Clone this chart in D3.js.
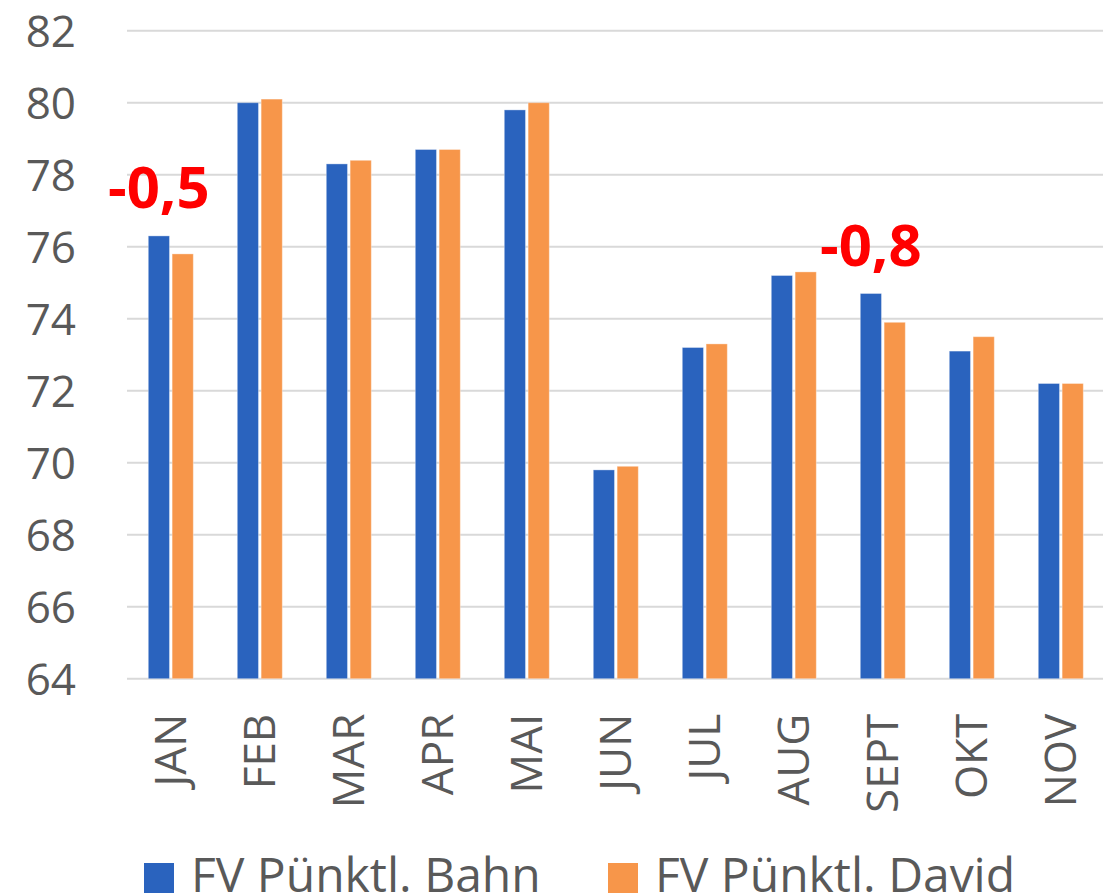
<!DOCTYPE html>
<html>
<head>
<meta charset="utf-8">
<script src="https://cdn.jsdelivr.net/npm/d3@7"></script>
<style>
  html, body { margin: 0; padding: 0; background: #fff; }
  svg { display: block; }
</style>
</head>
<body>
<svg id="chart" width="1115" height="896"></svg>
<script>
// Monthly punctuality of long-distance traffic (FV), two sources
const months = ["JAN", "FEB", "MAR", "APR", "MAI", "JUN", "JUL", "AUG", "SEPT", "OKT", "NOV"];
const bahn   = [76.3, 80.0, 78.3, 78.7, 79.8, 69.8, 73.2, 75.2, 74.7, 73.1, 72.2];
const david  = [75.8, 80.1, 78.4, 78.7, 80.0, 69.9, 73.3, 75.3, 73.9, 73.5, 72.2];
const seriesNames = ["FV Pünktl. Bahn", "FV Pünktl. David"];
const seriesColors = ["#2A63BE", "#F7964A"];
const yTicks = [64, 66, 68, 70, 72, 74, 76, 78, 80, 82];
// Differences called out on the chart (David minus Bahn)
const callouts = [
  { month: "JAN", text: "-0,5" },
  { month: "SEPT", text: "-0,8" }
];

const svg = d3.select("#chart");
const font = "'Open Sans', 'Noto Sans', sans-serif";

const x = d3.scaleBand().domain(months).range([126.3, 1105.3]).paddingInner(0).paddingOuter(0);
const y = d3.scaleLinear().domain([64, 82]).range([678.7, 30.7]);

const barW = 20, barGap = 5;
const groupW = barW * 2 + barGap;
const xs = d3.scaleBand().domain([0, 1]).range([0, groupW]).paddingInner(barGap / groupW);

// Horizontal gridlines
svg.append("g")
  .selectAll("line")
  .data(yTicks)
  .join("line")
  .attr("x1", 127).attr("x2", 1103)
  .attr("y1", d => y(d)).attr("y2", d => y(d))
  .attr("stroke", "#d9d9d9")
  .attr("stroke-width", 2);

// Y axis labels
const yAxis = d3.axisLeft(y).tickValues(yTicks).tickSize(0).tickPadding(0).tickFormat(d3.format("d"));
svg.append("g")
  .attr("transform", "translate(76,0)")
  .call(yAxis)
  .call(g => g.select(".domain").remove())
  .call(g => g.selectAll("text")
    .attr("font-family", font)
    .attr("font-size", 44)
    .attr("fill", "#595959")
    .attr("dy", "0.35em"));

// Bars
const series = [bahn, david];
const groups = svg.append("g")
  .selectAll("g")
  .data(months)
  .join("g")
  .attr("transform", d => `translate(${x(d) + (x.bandwidth() - groupW) / 2},0)`);

groups.selectAll("rect")
  .data((m, i) => series.map((s, k) => ({ k, v: s[i] })))
  .join("rect")
  .attr("x", d => xs(d.k))
  .attr("width", xs.bandwidth())
  .attr("y", d => y(d.v))
  .attr("height", d => y(64) - y(d.v))
  .attr("fill", d => seriesColors[d.k])
  .attr("stroke", "rgba(255,255,255,0.35)")
  .attr("stroke-width", 1);

// X axis labels (rotated)
const xAxis = d3.axisBottom(x).tickSize(0).tickPadding(0);
svg.append("g")
  .attr("transform", `translate(0,${y(64)})`)
  .call(xAxis)
  .call(g => g.select(".domain").remove())
  .call(g => g.selectAll("text")
    .attr("font-family", font)
    .attr("font-size", 44)
    .attr("fill", "#595959")
    .attr("text-anchor", "end")
    .attr("transform", "rotate(-90)")
    .attr("x", -35)
    .attr("y", 0)
    .attr("dy", "0.35em"));

// Difference callouts
svg.append("g")
  .selectAll("text")
  .data(callouts)
  .join("text")
  .attr("x", d => x(d.month) + x.bandwidth() / 2 - 12)
  .attr("y", d => y(bahn[months.indexOf(d.month)]) - 28)
  .attr("text-anchor", "middle")
  .attr("font-family", font)
  .attr("font-weight", "bold")
  .attr("font-size", 58)
  .attr("fill", "#FF0000")
  .text(d => d.text);

// Legend
const legendX = [144, 608];
const legend = svg.append("g")
  .selectAll("g")
  .data(seriesNames)
  .join("g")
  .attr("transform", (d, i) => `translate(${legendX[i]},0)`);
legend.append("rect")
  .attr("x", 0).attr("y", 863)
  .attr("width", 30).attr("height", 30)
  .attr("fill", (d, i) => seriesColors[i]);
legend.append("text")
  .attr("x", 47).attr("y", 892)
  .attr("font-family", font)
  .attr("font-size", 48)
  .attr("fill", "#595959")
  .text(d => d);
</script>
</body>
</html>
